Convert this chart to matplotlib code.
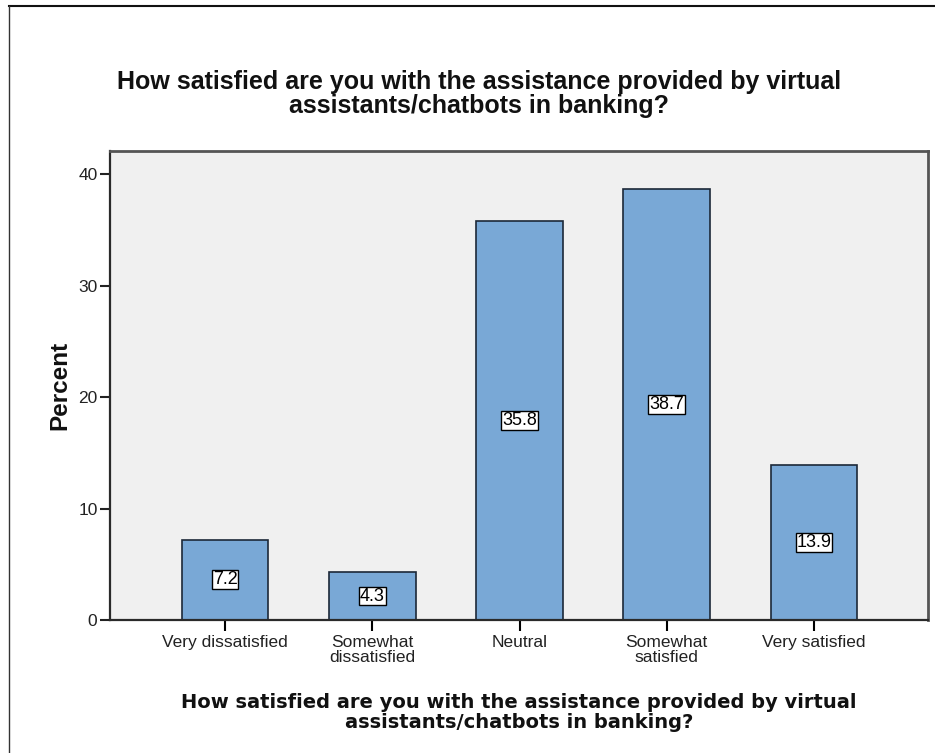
import matplotlib
matplotlib.use("Agg")
import matplotlib.pyplot as plt
from matplotlib.lines import Line2D

categories = ["Very dissatisfied", "Somewhat\ndissatisfied", "Neutral",
              "Somewhat\nsatisfied", "Very satisfied"]
percent = [7.2, 4.3, 35.8, 38.7, 13.9]
y_ticks = [0, 10, 20, 30, 40]
question = ("How satisfied are you with the assistance provided by virtual\n"
            "assistants/chatbots in banking?")

W, H = 935, 753
fig = plt.figure(figsize=(W / 100, H / 100), dpi=100)
fig.patch.set_facecolor("white")

# panel frame along the top and left edges
fig.add_artist(Line2D([9 / W, 1], [1 - 6 / H, 1 - 6 / H], color="#111111", lw=1.5))
fig.add_artist(Line2D([9 / W, 9 / W], [0, 1 - 6 / H], color="#333333", lw=1.0))

ax = fig.add_axes([110 / W, 1 - 620 / H, 818 / W, 469 / H])
ax.set_facecolor("#f0f0f0")

x = list(range(len(categories)))
ax.bar(x, percent, width=0.59, color="#79a8d6", edgecolor="#1c2838",
       linewidth=1.2, zorder=2)

for xi, v in zip(x, percent):
    ax.text(xi, v / 2, f"{v:.1f}", ha="center", va="center",
            fontsize=13, family="Liberation Sans", color="black", zorder=3,
            bbox=dict(boxstyle="square,pad=0.05", facecolor="white",
                      edgecolor="black", linewidth=1.0))

ax.set_xlim(-0.781, 4.774)
ax.set_ylim(0, 42.1)
ax.set_yticks(y_ticks)
ax.set_xticks(x)
ax.set_xticklabels(categories, fontsize=12.5, family="Liberation Sans",
                   color="#222222", linespacing=0.95)
ax.tick_params(axis="y", labelsize=12.5, length=7, width=1.5, pad=2,
               colors="#222222")
ax.tick_params(axis="x", length=8, width=1.5, pad=3)
for lab in ax.get_yticklabels():
    lab.set_family("Liberation Sans")

for side, sp in ax.spines.items():
    sp.set_linewidth(1.6)
    sp.set_color("#2a2a2a")
ax.spines["top"].set_color("#555555")
ax.spines["right"].set_color("#555555")
ax.spines["top"].set_linewidth(2.0)
ax.spines["right"].set_linewidth(2.0)

# axis titles
fig.text(60 / W, 1 - 385.5 / H, "Percent", rotation=90, ha="center",
         va="center", fontsize=17.5, fontweight="bold",
         family="Liberation Sans", color="#111111")

fig.text(519 / W, 1 - 728 / H, question, ha="center", va="baseline",
         fontsize=14, fontweight="bold", family="DejaVu Sans",
         linespacing=1.1, color="#111111")

fig.text(479 / W, 1 - 113 / H, question, ha="center", va="baseline",
         fontsize=18, fontweight="bold", family="Liberation Sans",
         linespacing=1.0, color="#111111")

fig.savefig("out.png", dpi=100)
